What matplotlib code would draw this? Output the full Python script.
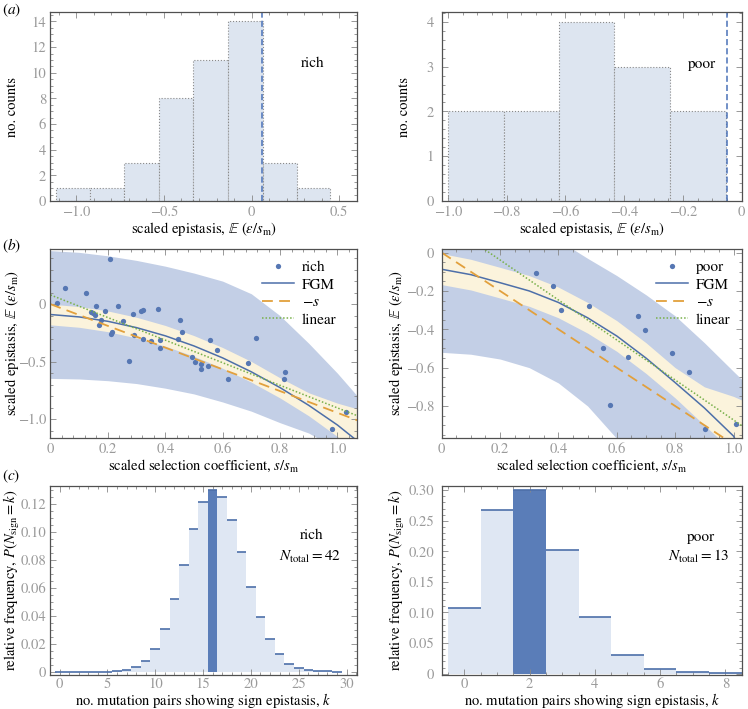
import numpy as np
import matplotlib
matplotlib.use("Agg")
import matplotlib.pyplot as plt
from matplotlib.ticker import MultipleLocator, AutoMinorLocator, FuncFormatter

plt.rcParams['font.family'] = ['STIXGeneral', 'Liberation Serif', 'DejaVu Serif']
plt.rcParams['mathtext.fontset'] = 'stix'
plt.rcParams['font.size'] = 10.5

# ---- panel (a): histograms of scaled epistasis ----
rich_edges = [-1.117, -0.921, -0.726, -0.531, -0.337, -0.137, 0.063, 0.257, 0.446]
rich_counts = [1, 1, 3, 8, 11, 14, 3, 1]
rich_mean = 0.057

poor_edges = [-1.0, -0.81, -0.622, -0.434, -0.243, -0.054]
poor_counts = [2, 2, 4, 3, 2]
poor_mean = -0.05

# ---- panel (b): epistasis vs selection coefficient ----
rich_s = [0.023, 0.05, 0.124, 0.208, 0.157, 0.14, 0.149, 0.155, 0.169, 0.177,
          0.19, 0.21, 0.216, 0.237, 0.252, 0.272, 0.287, 0.292, 0.317, 0.324,
          0.321, 0.35, 0.376, 0.38, 0.383, 0.443, 0.45, 0.46, 0.494, 0.505,
          0.524, 0.526, 0.549, 0.556, 0.582, 0.617, 0.687, 0.717, 0.816, 0.814,
          1.03, 0.982]
rich_eps = [0.014, 0.14, 0.097, 0.392, -0.018, -0.067, -0.081, -0.096, -0.178, -0.14,
            -0.06, -0.257, -0.24, -0.018, -0.148, -0.493, -0.083, -0.27, -0.062, -0.055,
            -0.304, -0.318, -0.04, -0.312, -0.378, -0.3, -0.14, -0.24, -0.455, -0.499,
            -0.565, -0.522, -0.539, -0.308, -0.395, -0.649, -0.513, -0.293, -0.591, -0.649,
            -0.94, -1.081]

poor_s = [0.322, 0.382, 0.408, 0.503, 0.554, 0.575, 0.639, 0.674, 0.696, 0.789,
          0.846, 0.903, 1.009]
poor_eps = [-0.104, -0.174, -0.299, -0.278, -0.497, -0.793, -0.543, -0.329, -0.403, -0.523,
            -0.623, -0.918, -0.892]

rich_grid = [0, 0.1, 0.2, 0.3, 0.4, 0.5, 0.6, 0.7, 0.8, 0.9, 1.0, 1.07]
rich_fgm = [-0.09, -0.111, -0.149, -0.204, -0.275, -0.363, -0.467, -0.588, -0.725, -0.879, -1.05, -1.19]
rich_inner_hi = [0.0, -0.021, -0.059, -0.114, -0.185, -0.273, -0.377, -0.498, -0.64, -0.77, -0.86, -0.91]
rich_inner_lo = [-0.18, -0.201, -0.239, -0.294, -0.365, -0.453, -0.557, -0.678, -0.815, -0.97, -1.15, -1.3]
rich_outer_hi = [0.465, 0.45, 0.42, 0.38, 0.33, 0.27, 0.2, 0.09, -0.1, -0.34, -0.6, -0.8]
rich_outer_lo = [-0.645, -0.65, -0.665, -0.69, -0.73, -0.78, -0.85, -0.93, -1.03, -1.12, -1.26, -1.38]
rich_neg_s = [0.0, -1.01]
rich_lin = [0.08, -0.97]
rich_ends = [0.0, 1.07]

poor_grid = [0, 0.1, 0.2, 0.3, 0.4, 0.5, 0.6, 0.7, 0.8, 0.9, 1.0, 1.03]
poor_fgm = [-0.087, -0.115, -0.157, -0.2, -0.26, -0.34, -0.435, -0.55, -0.678, -0.81, -0.957, -1.05]
poor_inner_hi = [-0.005, -0.035, -0.077, -0.12, -0.18, -0.26, -0.355, -0.47, -0.6, -0.7, -0.75, -0.77]
poor_inner_lo = [-0.167, -0.195, -0.237, -0.28, -0.34, -0.42, -0.515, -0.63, -0.758, -0.9, -1.04, -1.13]
poor_outer_hi = [0.25, 0.23, 0.19, 0.14, 0.065, -0.03, -0.12, -0.22, -0.33, -0.47, -0.62, -0.664]
poor_outer_lo = [-0.52, -0.53, -0.555, -0.6, -0.68, -0.8, -0.97, -1.15, -1.35, -1.55, -1.8, -1.9]
poor_neg_s = [0.0, -1.03]
poor_lin = [0.17, -0.904]
poor_ends = [0.0, 1.03]

# ---- panel (c): distribution of sign-epistasis counts ----
rich_k = list(range(30))
rich_p = [0.0, 0.0, 0.0, 0.0, 0.0001, 0.0002, 0.0006, 0.0015, 0.0033, 0.0076,
          0.0164, 0.0309, 0.0516, 0.0765, 0.102, 0.1212, 0.130, 0.125, 0.1086, 0.0853,
          0.0606, 0.0394, 0.0231, 0.0124, 0.0059, 0.0029, 0.0014, 0.0006, 0.0003, 0.0001]
rich_obs = 16
poor_k = list(range(9))
poor_p = [0.1073, 0.267, 0.300, 0.2026, 0.0925, 0.0303, 0.0083, 0.0028, 0.0011]
poor_obs = 2

HIST_FILL = '#dde5f0'
BAND_OUT = '#c3cfe6'
BAND_IN = '#fbf3dc'
BLUE = '#4d6fa9'
DOT = '#5677b3'
ORANGE = '#e2a03c'
GREEN = '#78b04a'
BAR_FILL = '#dfe7f3'
BAR_DARK = '#5a7db8'
TICK_GRAY = '#9a9a9a'

eps_label = r'scaled epistasis, $\mathbb{E}$ ($\varepsilon/s_{\mathrm{m}}$)'


def fmt(dec):
    def f(v, pos):
        if abs(v) < 1e-9:
            return '0'
        return ('%.*f' % (dec, v)).replace('-', '\u2212')
    return FuncFormatter(f)


def style(ax, xmaj, xdec, ymaj, ydec, ypad=3, xpad=3.5):
    ax.xaxis.set_major_locator(MultipleLocator(xmaj))
    ax.yaxis.set_major_locator(MultipleLocator(ymaj))
    ax.xaxis.set_major_formatter(fmt(xdec))
    ax.yaxis.set_major_formatter(fmt(ydec))
    ax.xaxis.set_minor_locator(AutoMinorLocator(5))
    ax.yaxis.set_minor_locator(AutoMinorLocator(5))
    ax.tick_params(which='both', direction='in', top=True, right=True,
                   color='#888888', labelcolor=TICK_GRAY, labelsize=10.5, width=0.6)
    ax.tick_params(which='major', length=4.5)
    ax.tick_params(axis='x', which='major', pad=xpad)
    ax.tick_params(axis='y', which='major', pad=ypad)
    ax.tick_params(which='minor', length=2.5)
    for sp in ax.spines.values():
        sp.set_color('#505050')
        sp.set_linewidth(0.9)


def place_labels(ax, ylx, xly):
    ax.yaxis.set_label_coords(ylx, 0.5)
    ax.yaxis.label.set_va('center')
    ax.xaxis.set_label_coords(0.5, xly)
    ax.xaxis.label.set_va('center')


fig = plt.figure(figsize=(7.48, 7.09), dpi=100)

lx, lw_ = 0.0675, 0.4093
rx, rw = 0.5905, 0.4019
rows = {'a': 0.7165, 'b': 0.3827, 'c': 0.0484}
h = 0.2659

# (a) rich
ax = fig.add_axes([lx, rows['a'], lw_, h])
ax.bar(rich_edges[:-1], rich_counts, width=np.diff(rich_edges), align='edge',
       color=HIST_FILL, edgecolor='#8a8a8a', linestyle=':', linewidth=0.8)
ax.axvline(rich_mean, color='#4a72b8', ls=(0, (4, 2)), lw=1.1)
ax.text(0.347, 10.76, 'rich', ha='center', va='center', fontsize=11)
ax.set_xlim(-1.148, 0.60)
ax.set_ylim(0, 14.7)
style(ax, 0.5, 1, 2, 0)
ax.yaxis.set_minor_locator(AutoMinorLocator(4))
ax.set_xlabel(eps_label)
ax.set_ylabel('no. counts')
place_labels(ax, -0.125, -0.148)

# (a) poor
ax = fig.add_axes([rx, rows['a'], rw, h])
ax.bar(poor_edges[:-1], poor_counts, width=np.diff(poor_edges), align='edge',
       color=HIST_FILL, edgecolor='#8a8a8a', linestyle=':', linewidth=0.8)
ax.axvline(poor_mean, color='#4a72b8', ls=(0, (4, 2)), lw=1.1)
ax.text(-0.134, 3.06, 'poor', ha='center', va='center', fontsize=11)
ax.set_xlim(-1.021, 0.002)
ax.set_ylim(0, 4.21)
style(ax, 0.2, 1, 1, 0, ypad=5.5)
ax.xaxis.set_minor_locator(AutoMinorLocator(4))
ax.set_xlabel(eps_label)
ax.set_ylabel('no. counts')
place_labels(ax, -0.125, -0.148)

# (b) rich
ax = fig.add_axes([lx, rows['b'], lw_, h])
ax.fill_between(rich_grid, rich_outer_lo, rich_outer_hi, color=BAND_OUT, lw=0)
ax.fill_between(rich_grid, rich_inner_lo, rich_inner_hi, color=BAND_IN, lw=0)
ax.plot(rich_s, rich_eps, 'o', color=DOT, ms=3.8, mec='none', label='rich')
ax.plot(rich_grid, rich_fgm, '-', color=BLUE, lw=1.1, label='FGM')
ax.plot(rich_ends, rich_neg_s, color=ORANGE, ls=(0, (6, 3.5)), lw=1.3, label=r'$-s$')
ax.plot(rich_ends, rich_lin, color=GREEN, ls=(0, (1, 1.3)), lw=1.1, label='linear')
ax.set_xlim(0, 1.067)
ax.set_ylim(-1.16, 0.478)
style(ax, 0.2, 1, 0.5, 1)
ax.set_xlabel(r'scaled selection coefficient, $s/s_{\mathrm{m}}$')
ax.set_ylabel(eps_label)
place_labels(ax, -0.127, -0.152)
ax.legend(loc='upper right', bbox_to_anchor=(0.935, 0.94), frameon=False,
          handlelength=2.1, handletextpad=0.5, labelspacing=0.25, borderpad=0,
          borderaxespad=0, fontsize=11)

# (b) poor
ax = fig.add_axes([rx, rows['b'], rw, h])
ax.fill_between(poor_grid, poor_outer_lo, poor_outer_hi, color=BAND_OUT, lw=0)
ax.fill_between(poor_grid, poor_inner_lo, poor_inner_hi, color=BAND_IN, lw=0)
ax.plot(poor_s, poor_eps, 'o', color=DOT, ms=3.8, mec='none', label='poor')
ax.plot(poor_grid, poor_fgm, '-', color=BLUE, lw=1.1, label='FGM')
ax.plot(poor_ends, poor_neg_s, color=ORANGE, ls=(0, (6, 3.5)), lw=1.3, label=r'$-s$')
ax.plot(poor_ends, poor_lin, color=GREEN, ls=(0, (1, 1.3)), lw=1.1, label='linear')
ax.set_xlim(0, 1.03)
ax.set_ylim(-0.965, 0.018)
style(ax, 0.2, 1, 0.2, 1, ypad=5.5)
ax.xaxis.set_minor_locator(AutoMinorLocator(4))
ax.yaxis.set_minor_locator(AutoMinorLocator(4))
ax.set_xlabel(r'scaled selection coefficient, $s/s_{\mathrm{m}}$')
ax.set_ylabel(eps_label)
place_labels(ax, -0.152, -0.152)
ax.legend(loc='upper right', bbox_to_anchor=(0.96, 0.94), frameon=False,
          handlelength=2.1, handletextpad=0.5, labelspacing=0.25, borderpad=0,
          borderaxespad=0, fontsize=11)

# (c) rich
ax = fig.add_axes([lx, rows['c'], lw_, h])
ax.bar(rich_k, rich_p, width=1.0, color=BAR_FILL, edgecolor='none')
ax.hlines(rich_p, np.array(rich_k) - 0.5, np.array(rich_k) + 0.5, color=BLUE, lw=1.2)
ax.bar(rich_obs, rich_p[rich_obs], width=1.0, color=BAR_DARK, edgecolor='none')
ax.text(0.853, 0.74, 'rich', transform=ax.transAxes, ha='center', va='center', fontsize=11)
ax.text(0.847, 0.625, r'$N_{\mathrm{total}} = 42$', transform=ax.transAxes,
        ha='center', va='center', fontsize=11)
ax.set_xlim(-0.95, 31.05)
ax.set_ylim(-0.002, 0.1324)
style(ax, 5, 0, 0.02, 2, xpad=2)
ax.yaxis.set_minor_locator(AutoMinorLocator(4))
ax.set_xlabel('no. mutation pairs showing sign epistasis, $k$')
ax.set_ylabel(r'relative frequency, $P(N_{\mathrm{sign}} = k)$')
place_labels(ax, -0.125, -0.136)

# (c) poor
ax = fig.add_axes([rx, rows['c'], rw, h])
ax.bar(poor_k, poor_p, width=1.0, color=BAR_FILL, edgecolor='none')
ax.hlines(poor_p, np.array(poor_k) - 0.5, np.array(poor_k) + 0.5, color=BLUE, lw=1.2)
ax.bar(poor_obs, poor_p[poor_obs], width=1.0, color=BAR_DARK, edgecolor='none')
ax.text(0.862, 0.731, 'poor', transform=ax.transAxes, ha='center', va='center', fontsize=11)
ax.text(0.856, 0.625, r'$N_{\mathrm{total}} = 13$', transform=ax.transAxes,
        ha='center', va='center', fontsize=11)
ax.set_xlim(-0.694, 8.52)
ax.set_ylim(-0.0017, 0.3066)
style(ax, 2, 0, 0.05, 2, ypad=5.5, xpad=2)
ax.xaxis.set_minor_locator(AutoMinorLocator(4))
ax.set_xlabel('no. mutation pairs showing sign epistasis, $k$')
ax.set_ylabel(r'relative frequency, $P(N_{\mathrm{sign}} = k)$')
place_labels(ax, -0.148, -0.136)

fig.text(0.003, 0.980, r'($a$)', fontsize=11)
fig.text(0.003, 0.647, r'($b$)', fontsize=11)
fig.text(0.003, 0.322, r'($c$)', fontsize=11)

fig.savefig('out.png', dpi=100)
